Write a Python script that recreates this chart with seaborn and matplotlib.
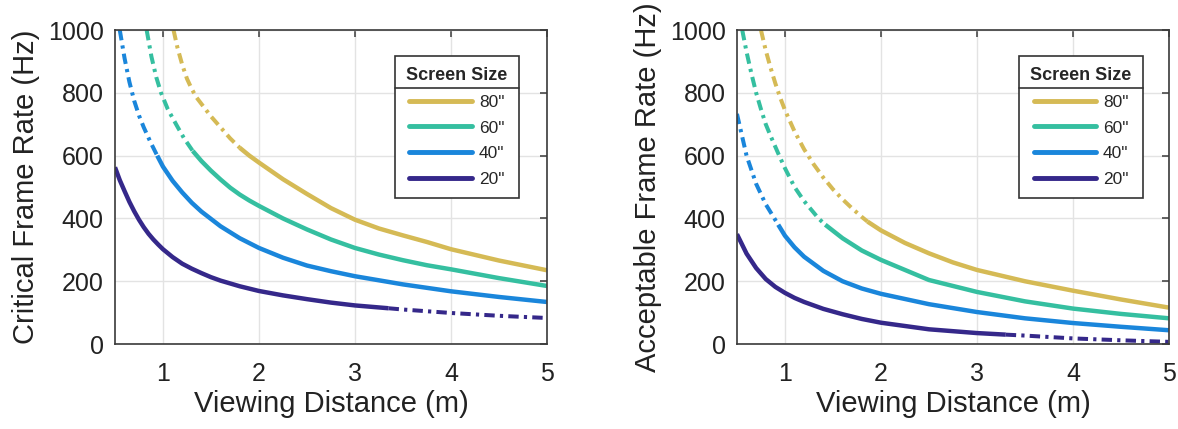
import matplotlib
matplotlib.use("Agg")
import matplotlib.pyplot as plt
import seaborn as sns
from matplotlib.lines import Line2D

## data (viewing distance in m, frame rate in Hz)
sizes = ['80"', '60"', '40"', '20"']
colors = ["#D5BA55", "#35BFA0", "#1A86DB", "#35288A"]

# critical frame rate
crit_x_80 = [1.11, 1.15, 1.2, 1.25, 1.3, 1.35, 1.4, 1.5, 1.6, 1.7, 1.8, 1.9, 2.0, 2.25, 2.5, 2.75,
             3.0, 3.25, 3.5, 3.75, 4.0, 4.5, 5.0]
crit_y_80 = [1000, 945, 890, 845, 812, 785, 765, 725, 690, 655, 625, 600, 578, 525, 478, 433,
             396, 368, 346, 325, 302, 266, 235]
crit_x_60 = [0.83, 0.88, 0.93, 0.98, 1.05, 1.14, 1.22, 1.31, 1.4, 1.5, 1.6, 1.7, 1.8, 1.9, 2.0,
             2.25, 2.5, 2.75, 3.0, 3.25, 3.5, 3.75, 4.0, 4.5, 5.0]
crit_y_60 = [1000, 915, 850, 800, 748, 698, 655, 615, 583, 552, 524, 498, 476, 457, 440,
             400, 365, 333, 306, 285, 267, 251, 238, 210, 185]
crit_x_40 = [0.55, 0.6, 0.65, 0.7, 0.75, 0.8, 0.87, 0.94, 1.0, 1.1, 1.2, 1.3, 1.4, 1.6, 1.8, 2.0,
             2.25, 2.5, 2.75, 3.0, 3.5, 4.0, 4.5, 5.0]
crit_y_40 = [1000, 910, 835, 775, 728, 690, 643, 600, 565, 520, 483, 450, 422, 375, 337, 306,
             275, 250, 232, 216, 190, 168, 150, 134]
crit_x_20 = [0.5, 0.55, 0.6, 0.65, 0.7, 0.75, 0.8, 0.85, 0.9, 0.95, 1.0, 1.1, 1.2, 1.3, 1.4, 1.5,
             1.6, 1.8, 2.0, 2.25, 2.5, 2.75, 3.0, 3.35, 3.5, 4.0, 4.5, 5.0]
crit_y_20 = [563, 522, 487, 453, 423, 396, 372, 351, 333, 317, 302, 277, 256, 240, 226, 213,
             202, 184, 169, 155, 143, 132, 123, 114, 110, 99, 90, 83]

# acceptable frame rate
acc_x_80 = [0.75, 0.8, 0.85, 0.9, 0.95, 1.0, 1.1, 1.2, 1.3, 1.4, 1.5, 1.6, 1.7, 1.8, 1.86, 2.0,
            2.25, 2.5, 2.75, 3.0, 3.5, 4.0, 4.5, 5.0]
acc_y_80 = [1000, 935, 880, 830, 785, 745, 677, 620, 572, 530, 493, 461, 432, 405, 390, 362,
            322, 289, 260, 236, 200, 170, 142, 116]
acc_x_60 = [0.555, 0.6, 0.65, 0.7, 0.75, 0.8, 0.85, 0.94, 1.0, 1.1, 1.2, 1.35, 1.42, 1.6, 1.8,
            2.0, 2.5, 3.0, 3.5, 4.0, 4.5, 5.0]
acc_y_60 = [1000, 930, 862, 800, 748, 700, 663, 600, 560, 500, 455, 400, 380, 337, 298,
            268, 204, 166, 136, 113, 96, 82]
acc_x_40 = [0.5, 0.6, 0.7, 0.8, 0.9, 0.93, 1.0, 1.1, 1.2, 1.4, 1.6, 1.8, 2.0, 2.5, 3.0, 3.5,
            4.0, 4.5, 5.0]
acc_y_40 = [733, 600, 510, 445, 395, 380, 345, 308, 278, 233, 200, 177, 160, 127, 102, 82,
            67, 55, 44]
acc_x_20 = [0.5, 0.6, 0.7, 0.8, 0.9, 1.0, 1.1, 1.2, 1.4, 1.6, 1.8, 2.0, 2.5, 3.0, 3.3, 3.5,
            4.0, 4.5, 5.0]
acc_y_20 = [350, 288, 242, 207, 182, 163, 147, 134, 112, 95, 80, 68, 47, 35, 30, 27,
            18, 12, 7]

# distance where each curve switches between dash-dot and solid
crit_cut = [1.8, 1.31, 0.94, 3.35]
acc_cut = [1.86, 1.42, 0.93, 3.3]
# 20" is dash-dot beyond the cut, the others before it
dash_after = [False, False, False, True]

panels = [
    ("Critical Frame Rate (Hz)",
     [(crit_x_80, crit_y_80), (crit_x_60, crit_y_60), (crit_x_40, crit_y_40), (crit_x_20, crit_y_20)],
     crit_cut),
    ("Acceptable Frame Rate (Hz)",
     [(acc_x_80, acc_y_80), (acc_x_60, acc_y_60), (acc_x_40, acc_y_40), (acc_x_20, acc_y_20)],
     acc_cut),
]

sns.set_style("white")
plt.rcParams['font.family'] = ['Liberation Sans', 'DejaVu Sans']

fig = plt.figure(figsize=(11.78, 4.29), dpi=100)
axes = [fig.add_axes([0.0976, 0.198, 0.3667, 0.732]),
        fig.add_axes([0.6256, 0.198, 0.3667, 0.732])]

dashdot = (0, (2.6, 1.3, 0.8, 1.3))
lw = 3.2
legend_anchor = [(0.935, 0.917), (0.940, 0.917)]

for ax, (ylabel, series, cuts), anchor in zip(axes, panels, legend_anchor):
    handles = []
    for (xs, ys), cut, after, col, lab in zip(series, cuts, dash_after, colors, sizes):
        solid_x = [x for x in xs if (x <= cut if after else x >= cut)]
        solid_y = [y for x, y in zip(xs, ys) if (x <= cut if after else x >= cut)]
        dd_x = [x for x in xs if (x >= cut if after else x <= cut)]
        dd_y = [y for x, y in zip(xs, ys) if (x >= cut if after else x <= cut)]
        sns.lineplot(x=solid_x, y=solid_y, ax=ax, color=col, linewidth=lw,
                     solid_capstyle="butt", solid_joinstyle="round")
        sns.lineplot(x=dd_x, y=dd_y, ax=ax, color=col, linewidth=lw * 0.9,
                     linestyle=dashdot, dash_capstyle="butt")
        handles.append(Line2D([], [], color=col, linewidth=lw * 1.1))

    ax.set_xlim(0.5, 5)
    ax.set_ylim(0, 1000)
    ax.set_xticks([1, 2, 3, 4, 5])
    ax.set_yticks([0, 200, 400, 600, 800, 1000])
    ax.grid(True, color="#e3e3e3", linewidth=1.0)
    ax.set_axisbelow(True)
    for sp in ax.spines.values():
        sp.set_visible(True)
        sp.set_color("#3a3a3a")
        sp.set_linewidth(1.2)
    ax.tick_params(direction="in", length=5, width=1.1, color="#3a3a3a",
                   top=True, right=True, labelsize=18, pad=8, labelcolor="#222222")
    ax.tick_params(axis="x", pad=13)
    ax.set_xlabel("Viewing Distance (m)", fontsize=21, color="#222222", labelpad=3)
    ax.set_ylabel(ylabel, fontsize=21, color="#222222", labelpad=6)

    leg = ax.legend(handles, sizes, title="Screen Size", loc="upper right",
                    bbox_to_anchor=anchor, borderaxespad=0, fancybox=False,
                    framealpha=1, edgecolor="#333333", fontsize=12.5,
                    title_fontproperties={"weight": "bold", "size": 13},
                    handlelength=3.6, handletextpad=0.4, labelspacing=0.6,
                    borderpad=0.65, alignment="center")
    leg.get_frame().set_linewidth(1.2)

# line under the legend title, like the original
fig.canvas.draw()
renderer = fig.canvas.get_renderer()
for ax in axes:
    leg = ax.get_legend()
    fb = leg.get_frame().get_window_extent(renderer)
    tb = leg.get_title().get_window_extent(renderer)
    ysep = tb.y0 - 4
    inv = fig.transFigure.inverted()
    (x0, y0), (x1, _) = inv.transform([(fb.x0, ysep), (fb.x1, ysep)])
    fig.add_artist(Line2D([x0, x1], [y0, y0], color="#333333", linewidth=1.2))

fig.savefig("out.png", dpi=100)
